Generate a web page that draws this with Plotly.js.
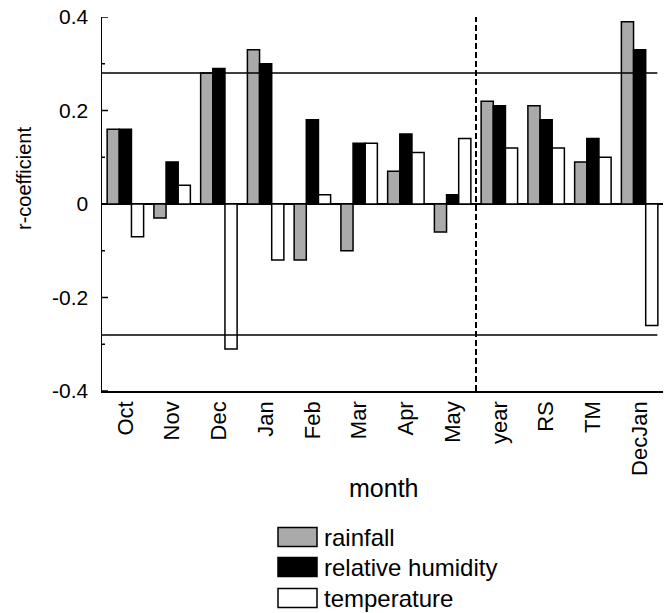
<!DOCTYPE html>
<html>
<head>
<meta charset="utf-8">
<script src="https://cdn.plot.ly/plotly-3.0.1.min.js"></script>
<style>html,body{margin:0;padding:0;background:#fff;}#chart{width:668px;height:613px;}</style>
</head>
<body>
<div id="chart"></div>
<script>
const categories = ["Oct","Nov","Dec","Jan","Feb","Mar","Apr","May","year","RS","TM","DecJan"];
const rainfall = [0.16,-0.03,0.28,0.33,-0.12,-0.10,0.07,-0.06,0.22,0.21,0.09,0.39];
const relativeHumidity = [0.16,0.09,0.29,0.30,0.18,0.13,0.15,0.02,0.21,0.18,0.14,0.33];
const temperature = [-0.07,0.04,-0.31,-0.12,0.02,0.13,0.11,0.14,0.12,0.12,0.10,-0.26];
const seriesNames = ["rainfall","relative humidity","temperature"];
const seriesColors = ["#aaaaaa","#000000","#ffffff"];
const significance = 0.28;
const dividerPosition = 7.5;
const yTickVals = [-0.4,-0.2,0,0.2,0.4];
const yTickText = ["-0.4","-0.2","0","0.2","0.4"];
const yMinorVals = [-0.3,-0.1,0.1,0.3];

const FONT = "Arial, 'Liberation Sans', sans-serif";
const xIdx = categories.map((c,i)=>i);
const allSeries = [rainfall, relativeHumidity, temperature];
const traces = allSeries.map((vals,k)=>({
  type:'bar', x:xIdx, y:vals, name:seriesNames[k],
  marker:{color:seriesColors[k], line:{color:'#000', width:1.5}},
  showlegend:false, hoverinfo:'skip'
}));

// plot area: l=102, r=663, t=17, b=391
const L=102, R=663, T=17, B=391;
const px2x = p => (p-L)/(R-L);
const px2y = p => (B-p)/(B-T);

const shapes = [
  {type:'line', xref:'x', yref:'y', x0:-0.5, x1:11.38, y0:significance, y1:significance, line:{color:'#000', width:1.5}},
  {type:'line', xref:'x', yref:'y', x0:-0.5, x1:11.38, y0:-significance, y1:-significance, line:{color:'#000', width:1.5}},
  {type:'line', xref:'x', yref:'paper', x0:dividerPosition, x1:dividerPosition, y0:0, y1:1, line:{color:'#000', width:2, dash:'6px,3px'}}
];
// ticks drawn inside the axis
yTickVals.forEach(v=>{
  shapes.push({type:'line', xref:'paper', yref:'y', x0:0, x1:px2x(L+6), y0:v, y1:v, line:{color:'#000', width:1.5}});
});
yMinorVals.forEach(v=>{
  shapes.push({type:'line', xref:'paper', yref:'y', x0:0, x1:px2x(L+3), y0:v, y1:v, line:{color:'#000', width:1.5}});
});

const annotations = [
  {text:'month', xref:'paper', yref:'paper', x:px2x(383), y:px2y(488), showarrow:false, font:{family:FONT, size:25, color:'#000'}, xanchor:'center', yanchor:'middle'},
  {text:'r-coefficient', xref:'paper', yref:'paper', x:px2x(24), y:px2y(179), showarrow:false, textangle:-90, font:{family:FONT, size:20, color:'#000'}, xanchor:'center', yanchor:'middle'}
];
const legendCenters = [537, 567, 598];
seriesNames.forEach((n,k)=>{
  const cy = legendCenters[k];
  shapes.push({type:'rect', xref:'paper', yref:'paper', x0:px2x(278), x1:px2x(317), y0:px2y(cy-9.5), y1:px2y(cy+9.5), fillcolor:seriesColors[k], line:{color:'#000', width:1.5}});
  annotations.push({text:n, xref:'paper', yref:'paper', x:px2x(322), y:px2y(cy), showarrow:false, xanchor:'left', yanchor:'middle', font:{family:FONT, size:24, color:'#000'}});
});

const layout = {
  width:668, height:613,
  margin:{l:L, r:668-R, t:T, b:613-B, pad:0},
  paper_bgcolor:'#fff', plot_bgcolor:'#fff',
  barmode:'group', bargap:0.22, bargroupgap:0,
  font:{family:FONT, color:'#000'},
  xaxis:{range:[-0.5,11.5], tickvals:xIdx, ticktext:categories, tickangle:-90,
    showgrid:false, zeroline:false, showline:true, linecolor:'#000', linewidth:1.5,
    ticks:'', tickfont:{family:FONT, size:22, color:'#000'}, fixedrange:true},
  yaxis:{range:[-0.4,0.4], tickvals:yTickVals, ticktext:yTickText, showgrid:false,
    zeroline:true, zerolinecolor:'#000', zerolinewidth:1.5,
    showline:true, linecolor:'#000', linewidth:1.5, ticks:'',
    tickfont:{family:FONT, size:21, color:'#000'}, ticklabelstandoff:8, fixedrange:true},
  shapes:shapes, annotations:annotations, showlegend:false
};
Plotly.newPlot('chart', traces, layout, {staticPlot:true});
</script>
</body>
</html>
